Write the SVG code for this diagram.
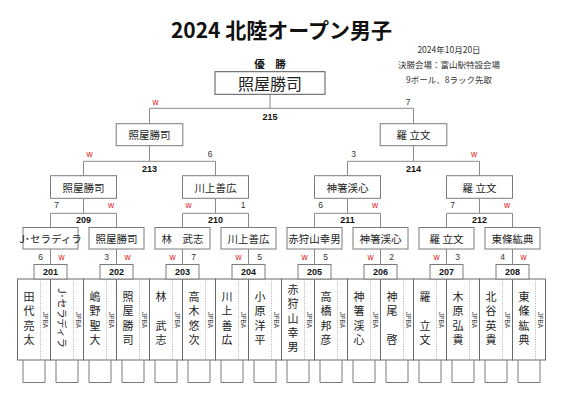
<svg xmlns="http://www.w3.org/2000/svg" width="566" height="400" viewBox="0 0 566 400">
<style>
.bg{fill:#fff}
.ln{stroke:#8a8a8a;stroke-width:1;fill:none}
.bx{fill:#fff;stroke:#7a7a7a;stroke-width:1}
.cb{fill:#fff;stroke:#555;stroke-width:1}
.pb{fill:#fff;stroke:#6a6a6a;stroke-width:1}
.dt{stroke:#aaa;stroke-width:0.8;stroke-dasharray:1.2 1.2;fill:none}
.sb{fill:none;stroke:#7a7a7a;stroke-width:1}
.nm{font-family:"Noto Sans CJK JP",sans-serif;font-size:10.5px;text-anchor:middle;dominant-baseline:central;fill:#222}
.ch{font-family:"Noto Sans CJK JP",sans-serif;font-size:16px;text-anchor:middle;dominant-baseline:central;fill:#222}
.mt{font-family:"Liberation Sans",Arial,sans-serif;font-weight:bold;font-size:9px;text-anchor:middle;fill:#111}
.sc{font-family:"Liberation Sans",Arial,sans-serif;font-size:8.5px;text-anchor:middle;fill:#333}
.w{font-family:"Liberation Sans",Arial,sans-serif;font-size:8.5px;text-anchor:middle;fill:#e02020}
.pn{font-family:"Noto Sans CJK JP",sans-serif;font-size:11px;writing-mode:vertical-rl;letter-spacing:3.3px;text-anchor:middle;fill:#222}
.jr{font-family:"Noto Sans CJK JP",sans-serif;font-size:10px;text-anchor:middle;dominant-baseline:central;fill:#222}
.jp{font-family:"Liberation Sans",Arial,sans-serif;font-size:6.5px;text-anchor:middle;dominant-baseline:central;fill:#444}
.ti{font-family:"Noto Sans CJK JP",sans-serif;font-size:21px;font-weight:bold;text-anchor:middle;fill:#111}
.in{font-family:"Noto Sans CJK JP",sans-serif;font-size:8.5px;text-anchor:middle;fill:#333}
.yu{font-family:"Noto Sans CJK JP",sans-serif;font-size:10.5px;font-weight:bold;text-anchor:middle;fill:#111}
</style>
<rect class="bg" x="0" y="0" width="566" height="400"/>

<g id="header">
<text class="ti" x="281.5" y="38">2024 北陸オープン男子</text>
<text class="in" x="449" y="53">2024年10月20日</text>
<text class="in" x="449" y="68">決勝会場：富山駅特設会場</text>
<text class="in" x="449" y="83">9ボール、8ラック先取</text>
<text class="yu" x="270" y="68">優　勝</text>
</g>

<g id="connectors">
<path class="ln" d="M270,94.3V108.3M149.5,108.3H413.5M149.5,108.3V123.7M413.5,108.3V123.7"/>
<path class="ln" d="M149.5,145.7V161.3M83.5,161.3H215.5M83.5,161.3V175.7M215.5,161.3V175.7"/>
<path class="ln" d="M413.5,145.7V161.3M347.5,161.3H479.5M347.5,161.3V175.7M479.5,161.3V175.7"/>
<path class="ln" d="M83.5,198.3V213.3M50.5,213.3H116.5M50.5,213.3V227.5M116.5,213.3V227.5"/>
<path class="ln" d="M215.5,198.3V213.3M182.5,213.3H248.5M182.5,213.3V227.5M248.5,213.3V227.5"/>
<path class="ln" d="M347.5,198.3V213.3M314.5,213.3H380.5M314.5,213.3V227.5M380.5,213.3V227.5"/>
<path class="ln" d="M479.5,198.3V213.3M446.5,213.3H512.5M446.5,213.3V227.5M512.5,213.3V227.5"/>
<path class="ln" d="M50.5,249V264.5M116.5,249V264.5M182.5,249V264.5M248.5,249V264.5M314.5,249V264.5M380.5,249V264.5M446.5,249V264.5M512.5,249V264.5"/>
</g>

<g id="scores">
<text class="w" x="155.5" y="104.5">w</text><text class="sc" x="408" y="104.5">7</text>
<text class="w" x="89.5" y="156.5">w</text><text class="sc" x="210" y="156.5">6</text>
<text class="sc" x="353.5" y="156.5">3</text><text class="w" x="474" y="156.5">w</text>
<text class="sc" x="56.5" y="208">7</text><text class="w" x="111" y="208">w</text>
<text class="w" x="188.5" y="208">w</text><text class="sc" x="243" y="208">1</text>
<text class="sc" x="320.5" y="208">6</text><text class="w" x="375" y="208">w</text>
<text class="sc" x="452.5" y="208">7</text><text class="w" x="507" y="208">w</text>
<text class="sc" x="40.5" y="260">6</text><text class="w" x="61.5" y="260">w</text>
<text class="sc" x="106.5" y="260">3</text><text class="w" x="127.5" y="260">w</text>
<text class="w" x="172.5" y="260">w</text><text class="sc" x="193.5" y="260">7</text>
<text class="w" x="238.5" y="260">w</text><text class="sc" x="259.5" y="260">5</text>
<text class="w" x="304.5" y="260">w</text><text class="sc" x="325.5" y="260">5</text>
<text class="w" x="370.5" y="260">w</text><text class="sc" x="391.5" y="260">2</text>
<text class="w" x="436.5" y="260">w</text><text class="sc" x="457.5" y="260">3</text>
<text class="sc" x="502.5" y="260">4</text><text class="w" x="523.5" y="260">w</text>
</g>

<g id="match-labels">
<text class="mt" x="270" y="120">215</text>
<text class="mt" x="149.5" y="171.5">213</text>
<text class="mt" x="413.5" y="171.5">214</text>
<text class="mt" x="83.5" y="223">209</text>
<text class="mt" x="215.5" y="223">210</text>
<text class="mt" x="347.5" y="223">211</text>
<text class="mt" x="479.5" y="223">212</text>
</g>

<g id="champion"><rect class="cb" x="215" y="71.7" width="110" height="22.6"/><text class="ch" x="270" y="83">照屋勝司</text></g>

<g id="r3-1"><rect class="bx" x="116.2" y="123.7" width="66.6" height="22"/><text class="nm" x="149.5" y="134.7">照屋勝司</text></g>
<g id="r3-2"><rect class="bx" x="380.2" y="123.7" width="66.6" height="22"/><text class="nm" x="413.5" y="134.7">羅 立文</text></g>

<g id="r2-1"><rect class="bx" x="50.5" y="175.7" width="66" height="22.6"/><text class="nm" x="83.5" y="187">照屋勝司</text></g>
<g id="r2-2"><rect class="bx" x="182.5" y="175.7" width="66" height="22.6"/><text class="nm" x="215.5" y="187">川上善広</text></g>
<g id="r2-3"><rect class="bx" x="314.5" y="175.7" width="66" height="22.6"/><text class="nm" x="347.5" y="187">神箸渓心</text></g>
<g id="r2-4"><rect class="bx" x="446.5" y="175.7" width="66" height="22.6"/><text class="nm" x="479.5" y="187">羅 立文</text></g>

<g id="r1-1"><rect class="bx" x="23" y="227.5" width="55" height="21.5"/><text class="nm" x="50.5" y="238.3">J･セラディラ</text></g>
<g id="r1-2"><rect class="bx" x="89" y="227.5" width="55" height="21.5"/><text class="nm" x="116.5" y="238.3">照屋勝司</text></g>
<g id="r1-3"><rect class="bx" x="155" y="227.5" width="55" height="21.5"/><text class="nm" x="182.5" y="238.3">林　武志</text></g>
<g id="r1-4"><rect class="bx" x="221" y="227.5" width="55" height="21.5"/><text class="nm" x="248.5" y="238.3">川上善広</text></g>
<g id="r1-5"><rect class="bx" x="287" y="227.5" width="55" height="21.5"/><text class="nm" x="314.5" y="238.3">赤狩山幸男</text></g>
<g id="r1-6"><rect class="bx" x="353" y="227.5" width="55" height="21.5"/><text class="nm" x="380.5" y="238.3">神箸渓心</text></g>
<g id="r1-7"><rect class="bx" x="419" y="227.5" width="55" height="21.5"/><text class="nm" x="446.5" y="238.3">羅 立文</text></g>
<g id="r1-8"><rect class="bx" x="485" y="227.5" width="55" height="21.5"/><text class="nm" x="512.5" y="238.3">東條紘典</text></g>

<g id="p1"><rect class="pb" x="17.5" y="279" width="33" height="81"/><path class="dt" d="M40.5,279V360"/><path class="sb" d="M23,360V382.5H45V360"/><text class="pn" x="29" y="320">田代亮太</text><text class="jp" transform="translate(45.7,320) rotate(90)">JPBA</text></g>
<g id="p2"><rect class="pb" x="50.5" y="279" width="33" height="81"/><path class="dt" d="M73.5,279V360"/><path class="sb" d="M56,360V382.5H78V360"/><text class="jr" transform="translate(62,318) rotate(90)">J･セラディラ</text><text class="jp" transform="translate(78.7,320) rotate(90)">JPBA</text></g>
<g id="p3"><rect class="pb" x="83.5" y="279" width="33" height="81"/><path class="dt" d="M106.5,279V360"/><path class="sb" d="M89,360V382.5H111V360"/><text class="pn" x="95" y="320">嶋野聖大</text><text class="jp" transform="translate(111.7,320) rotate(90)">JPBA</text></g>
<g id="p4"><rect class="pb" x="116.5" y="279" width="33" height="81"/><path class="dt" d="M139.5,279V360"/><path class="sb" d="M122,360V382.5H144V360"/><text class="pn" x="128" y="320">照屋勝司</text><text class="jp" transform="translate(144.7,320) rotate(90)">JPBA</text></g>
<g id="p5"><rect class="pb" x="149.5" y="279" width="33" height="81"/><path class="dt" d="M172.5,279V360"/><path class="sb" d="M155,360V382.5H177V360"/><text class="pn" x="161" y="320">林　武志</text><text class="jp" transform="translate(177.7,320) rotate(90)">JPBA</text></g>
<g id="p6"><rect class="pb" x="182.5" y="279" width="33" height="81"/><path class="dt" d="M205.5,279V360"/><path class="sb" d="M188,360V382.5H210V360"/><text class="pn" x="194" y="320">高木悠次</text><text class="jp" transform="translate(210.7,320) rotate(90)">JPBA</text></g>
<g id="p7"><rect class="pb" x="215.5" y="279" width="33" height="81"/><path class="dt" d="M238.5,279V360"/><path class="sb" d="M221,360V382.5H243V360"/><text class="pn" x="227" y="320">川上善広</text><text class="jp" transform="translate(243.7,320) rotate(90)">JPBA</text></g>
<g id="p8"><rect class="pb" x="248.5" y="279" width="33" height="81"/><path class="dt" d="M271.5,279V360"/><path class="sb" d="M254,360V382.5H276V360"/><text class="pn" x="260" y="320">小原洋平</text><text class="jp" transform="translate(276.7,320) rotate(90)">JPBA</text></g>
<g id="p9"><rect class="pb" x="281.5" y="279" width="33" height="81"/><path class="dt" d="M304.5,279V360"/><path class="sb" d="M287,360V382.5H309V360"/><text class="pn" x="293" y="320">赤狩山幸男</text><text class="jp" transform="translate(309.7,320) rotate(90)">JPBA</text></g>
<g id="p10"><rect class="pb" x="314.5" y="279" width="33" height="81"/><path class="dt" d="M337.5,279V360"/><path class="sb" d="M320,360V382.5H342V360"/><text class="pn" x="326" y="320">高橋邦彦</text><text class="jp" transform="translate(342.7,320) rotate(90)">JPBA</text></g>
<g id="p11"><rect class="pb" x="347.5" y="279" width="33" height="81"/><path class="dt" d="M370.5,279V360"/><path class="sb" d="M353,360V382.5H375V360"/><text class="pn" x="359" y="320">神箸渓心</text><text class="jp" transform="translate(375.7,320) rotate(90)">JPBA</text></g>
<g id="p12"><rect class="pb" x="380.5" y="279" width="33" height="81"/><path class="dt" d="M403.5,279V360"/><path class="sb" d="M386,360V382.5H408V360"/><text class="pn" x="392" y="320">神尾　啓</text><text class="jp" transform="translate(408.7,320) rotate(90)">JPBA</text></g>
<g id="p13"><rect class="pb" x="413.5" y="279" width="33" height="81"/><path class="dt" d="M436.5,279V360"/><path class="sb" d="M419,360V382.5H441V360"/><text class="pn" x="425" y="320">羅　立文</text><text class="jp" transform="translate(441.7,320) rotate(90)">JPBA</text></g>
<g id="p14"><rect class="pb" x="446.5" y="279" width="33" height="81"/><path class="dt" d="M469.5,279V360"/><path class="sb" d="M452,360V382.5H474V360"/><text class="pn" x="458" y="320">木原弘貴</text><text class="jp" transform="translate(474.7,320) rotate(90)">JPBA</text></g>
<g id="p15"><rect class="pb" x="479.5" y="279" width="33" height="81"/><path class="dt" d="M502.5,279V360"/><path class="sb" d="M485,360V382.5H507V360"/><text class="pn" x="491" y="320">北谷英貴</text><text class="jp" transform="translate(507.7,320) rotate(90)">JPBA</text></g>
<g id="p16"><rect class="pb" x="512.5" y="279" width="33" height="81"/><path class="dt" d="M535.5,279V360"/><path class="sb" d="M518,360V382.5H540V360"/><text class="pn" x="524" y="320">東條紘典</text><text class="jp" transform="translate(540.7,320) rotate(90)">JPBA</text></g>

<g id="m201"><rect class="bx" x="34" y="264.5" width="33" height="14.5"/><text class="mt" x="50.5" y="275">201</text></g>
<g id="m202"><rect class="bx" x="100" y="264.5" width="33" height="14.5"/><text class="mt" x="116.5" y="275">202</text></g>
<g id="m203"><rect class="bx" x="166" y="264.5" width="33" height="14.5"/><text class="mt" x="182.5" y="275">203</text></g>
<g id="m204"><rect class="bx" x="232" y="264.5" width="33" height="14.5"/><text class="mt" x="248.5" y="275">204</text></g>
<g id="m205"><rect class="bx" x="298" y="264.5" width="33" height="14.5"/><text class="mt" x="314.5" y="275">205</text></g>
<g id="m206"><rect class="bx" x="364" y="264.5" width="33" height="14.5"/><text class="mt" x="380.5" y="275">206</text></g>
<g id="m207"><rect class="bx" x="430" y="264.5" width="33" height="14.5"/><text class="mt" x="446.5" y="275">207</text></g>
<g id="m208"><rect class="bx" x="496" y="264.5" width="33" height="14.5"/><text class="mt" x="512.5" y="275">208</text></g>
</svg>
